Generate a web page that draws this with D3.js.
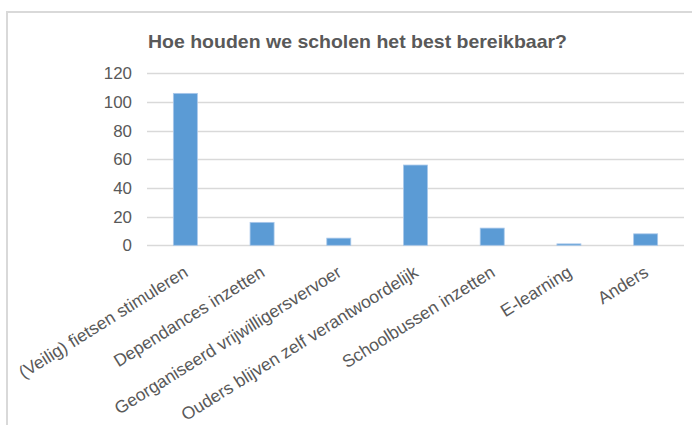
<!DOCTYPE html>
<html><head><meta charset="utf-8">
<script src="https://cdn.jsdelivr.net/npm/d3@7/dist/d3.min.js"></script>
<style>body{margin:0;background:#fff}svg{display:block}text{font-family:"Liberation Sans",Arial,sans-serif}</style>
</head><body>
<script>
const categories = ["(Veilig) fietsen stimuleren","Dependances inzetten","Georganiseerd vrijwilligersvervoer","Ouders blijven zelf verantwoordelijk","Schoolbussen inzetten","E-learning","Anders"];
const values = [106, 16, 5, 56, 12, 1, 8];
const yTicks = [0, 20, 40, 60, 80, 100, 120];
const title = "Hoe houden we scholen het best bereikbaar?";

const W = 692, H = 425;
const svg = d3.select("body").append("svg").attr("width", W).attr("height", H);

// frame
svg.append("path").attr("d", "M7,425 V12 H692").attr("fill","none").attr("stroke","#d9d9d9").attr("stroke-width",2);

svg.append("text").attr("x", 357.5).attr("y", 48).attr("text-anchor","middle")
  .attr("font-size", 18.5).attr("font-weight","bold").attr("fill","#595959")
  .attr("textLength", 419).attr("lengthAdjust","spacingAndGlyphs").text(title);

const x = d3.scaleBand().domain(categories).range([147, 684]).paddingInner(0.687).paddingOuter(0.3435);
const y = d3.scaleLinear().domain([0, 120]).range([245.3, 73.3]);

// gridlines
svg.append("g").selectAll("line").data(yTicks).join("line")
  .attr("x1", 147).attr("x2", 684)
  .attr("y1", d => Math.round(y(d)) + 0.5).attr("y2", d => Math.round(y(d)) + 0.5)
  .attr("stroke", "#d9d9d9").attr("stroke-width", 1.3);

const yAxis = svg.append("g").attr("transform","translate(147,0)")
  .call(d3.axisLeft(y).tickValues(yTicks).tickSize(0).tickPadding(15));
yAxis.select(".domain").remove();
yAxis.selectAll("text").attr("font-size", 16.9).attr("fill","#595959").attr("font-family","Liberation Sans, Arial, sans-serif");

svg.append("g").selectAll("rect").data(values).join("rect")
  .attr("x", (d,i) => x(categories[i]))
  .attr("width", x.bandwidth())
  .attr("y", d => y(d))
  .attr("height", d => y(0) - y(d))
  .attr("fill", "#5b9bd5").attr("stroke","#a9c8ea").attr("stroke-width",0.8);

// x axis labels
const xAxis = svg.append("g").attr("transform", `translate(0,${y(0)})`)
  .call(d3.axisBottom(x).tickSize(0).tickPadding(0));
xAxis.select(".domain").remove();
xAxis.selectAll("text")
  .attr("font-size", 17.5).attr("fill","#595959").attr("font-family","Liberation Sans, Arial, sans-serif")
  .attr("text-anchor","end").attr("dy", null).attr("y", null)
  .attr("transform","translate(4,30) rotate(-32)");
</script>
</body></html>
